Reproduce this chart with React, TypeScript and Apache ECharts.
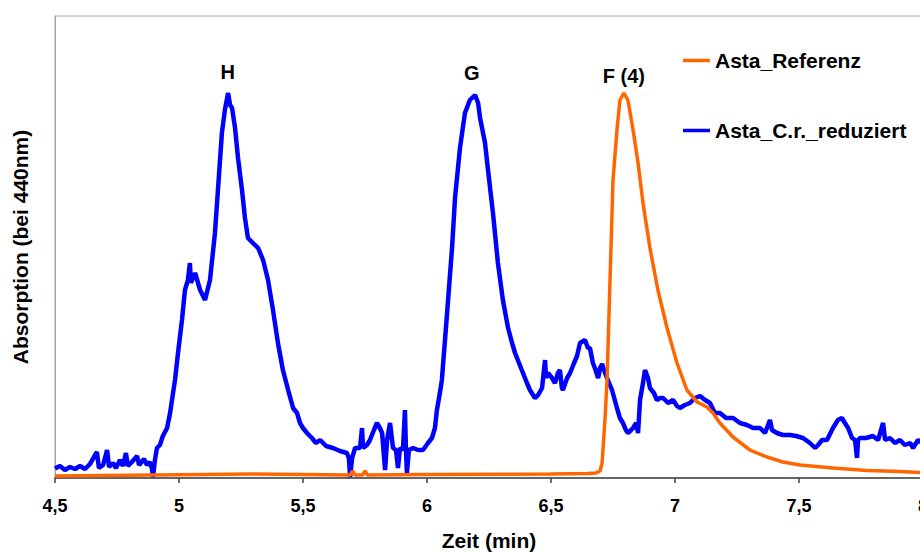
import React, { useEffect, useRef } from "react";
import * as echarts from "echarts";

// Zeit (min), Absorption (arb. units, 0 = baseline)
const blueSeries: [number, number][] = [
  [4.5, 0.95], [4.52, 1.2], [4.54, 0.8], [4.56, 1.1], [4.581, 0.9], [4.601, 1.2], [4.621, 0.9],
  [4.641, 1.4], [4.669, 2.6], [4.677, 1.0], [4.694, 1.3], [4.71, 2.8], [4.718, 1.1], [4.734, 1.5],
  [4.746, 1.0], [4.762, 1.8], [4.774, 1.2], [4.786, 2.5], [4.794, 1.2], [4.81, 1.6], [4.831, 2.2],
  [4.839, 1.3], [4.859, 1.9], [4.871, 1.3], [4.883, 1.6], [4.891, 0.9], [4.895, 0.1], [4.903, 1.8],
  [4.911, 3.0], [4.923, 3.3], [4.935, 4.2], [4.952, 5.0], [4.964, 6.5], [4.976, 8.5], [4.984, 9.8],
  [4.996, 12.5], [5.012, 15.8], [5.024, 18.8], [5.036, 19.8], [5.044, 21.5], [5.048, 19.5],
  [5.065, 20.5], [5.085, 18.8], [5.105, 17.8], [5.125, 19.8], [5.145, 24.5], [5.157, 28.8],
  [5.173, 34.5], [5.185, 36.8], [5.198, 38.5], [5.206, 37.3], [5.214, 37.0], [5.226, 35.0],
  [5.238, 32.0], [5.254, 28.8], [5.266, 26.0], [5.278, 24.0], [5.298, 23.5], [5.319, 23.0],
  [5.339, 21.8], [5.359, 19.8], [5.379, 16.8], [5.399, 13.5], [5.419, 10.8], [5.44, 8.8],
  [5.46, 7.0], [5.476, 6.5], [5.488, 5.5], [5.5, 5.0], [5.516, 4.5], [5.536, 4.0], [5.552, 3.5],
  [5.569, 3.8], [5.593, 3.2], [5.621, 3.0], [5.649, 2.7], [5.677, 2.5], [5.685, 2.0], [5.69, 0.1],
  [5.698, 2.0], [5.71, 3.0], [5.73, 3.0], [5.738, 5.0], [5.742, 3.0], [5.758, 3.3], [5.77, 3.8],
  [5.786, 4.8], [5.798, 5.5], [5.81, 5.0], [5.819, 4.5], [5.831, 0.8], [5.839, 3.8], [5.851, 5.5],
  [5.863, 3.0], [5.875, 2.8], [5.883, 1.0], [5.891, 3.0], [5.903, 2.8], [5.911, 6.8], [5.915, 3.0],
  [5.919, 0.5], [5.927, 2.8], [5.944, 3.0], [5.964, 2.8], [5.984, 2.8], [6.004, 3.5], [6.02, 4.0],
  [6.032, 5.0], [6.04, 6.8], [6.052, 8.5], [6.06, 9.8], [6.081, 16.5], [6.101, 23.0], [6.113, 28.0],
  [6.133, 33.0], [6.153, 36.5], [6.173, 37.8], [6.194, 38.3], [6.206, 37.5], [6.214, 36.0],
  [6.234, 33.5], [6.246, 30.8], [6.266, 26.5], [6.286, 21.5], [6.306, 17.8], [6.327, 15.0],
  [6.343, 13.5], [6.355, 12.5], [6.371, 11.5], [6.387, 10.5], [6.403, 9.5], [6.415, 8.8],
  [6.435, 8.0], [6.448, 8.3], [6.464, 9.0], [6.476, 11.8], [6.48, 10.0], [6.488, 10.5],
  [6.504, 10.0], [6.516, 9.5], [6.528, 10.5], [6.536, 10.8], [6.544, 9.0], [6.548, 8.8],
  [6.565, 10.0], [6.577, 10.5], [6.593, 11.5], [6.605, 12.2], [6.617, 13.5], [6.637, 13.8],
  [6.649, 13.0], [6.657, 13.0], [6.669, 11.5], [6.677, 11.0], [6.69, 10.0], [6.698, 11.0],
  [6.706, 11.4], [6.718, 10.5], [6.726, 10.0], [6.746, 8.8], [6.766, 7.0], [6.778, 6.0],
  [6.79, 5.5], [6.802, 4.8], [6.81, 4.5], [6.823, 4.8], [6.831, 5.0], [6.843, 5.5], [6.851, 4.5],
  [6.859, 7.8], [6.871, 9.5], [6.879, 10.8], [6.891, 10.0], [6.899, 9.0], [6.915, 8.5],
  [6.927, 7.8], [6.94, 8.0], [6.952, 8.0], [6.972, 7.5], [6.992, 7.8], [7.008, 7.2], [7.02, 7.0],
  [7.04, 7.3], [7.06, 7.5], [7.081, 8.0], [7.101, 8.2], [7.121, 7.8], [7.141, 7.5], [7.161, 6.5],
  [7.181, 6.5], [7.206, 6.0], [7.234, 6.0], [7.262, 5.5], [7.29, 5.3], [7.315, 5.0], [7.343, 5.0],
  [7.363, 4.5], [7.383, 5.8], [7.391, 4.8], [7.411, 4.5], [7.435, 4.3], [7.464, 4.3], [7.488, 4.2],
  [7.516, 4.0], [7.544, 3.5], [7.565, 3.0], [7.577, 3.3], [7.593, 3.8], [7.613, 3.8], [7.637, 5.0],
  [7.657, 5.8], [7.673, 6.0], [7.685, 5.5], [7.698, 5.0], [7.714, 4.0], [7.726, 3.8], [7.734, 2.0],
  [7.738, 3.8], [7.746, 4.0], [7.77, 4.0], [7.798, 4.2], [7.819, 3.8], [7.839, 5.5], [7.847, 3.8],
  [7.867, 4.0], [7.887, 3.5], [7.907, 3.8], [7.927, 3.3], [7.948, 3.5], [7.96, 3.0], [7.98, 3.8],
  [7.996, 3.5],
];

const orangeSeries: [number, number][] = [
  [4.5, 0.2], [4.9, 0.3], [5.3, 0.4], [5.69, 0.3], [5.7, 0.7], [5.71, 0.3], [5.74, 0.3],
  [5.75, 0.7], [5.76, 0.3], [6.0, 0.35], [6.5, 0.4], [6.65, 0.45], [6.681, 0.5], [6.698, 0.7],
  [6.706, 1.5], [6.71, 3.0], [6.718, 6.0], [6.726, 9.8], [6.738, 19.8], [6.75, 29.8],
  [6.766, 34.8], [6.778, 37.8], [6.794, 38.5], [6.81, 37.8], [6.831, 34.8], [6.851, 31.5],
  [6.871, 27.5], [6.899, 23.0], [6.931, 18.8], [6.968, 15.0], [7.008, 11.5], [7.048, 8.8],
  [7.089, 7.6], [7.129, 7.1], [7.153, 6.5], [7.181, 5.5], [7.234, 4.1], [7.302, 2.8],
  [7.371, 2.1], [7.435, 1.6], [7.504, 1.3], [7.637, 1.0], [7.774, 0.75], [7.907, 0.65],
  [7.996, 0.55],
];

const seriesNames = ["Asta_Referenz", "Asta_C.r._reduziert"];
const peakLabels: { name: string; coord: [number, number] }[] = [
  { name: "H", coord: [5.196, 40.6] },
  { name: "G", coord: [6.181, 40.5] },
  { name: "F (4)", coord: [6.794, 40.2] },
];
const xMin = 4.5;
const xMax = 8;
const xStep = 0.5;
const yMax = 46.2;

const FONT = "'Liberation Sans', Arial, sans-serif";

export default function App() {
  const ref = useRef<HTMLDivElement>(null);
  useEffect(() => {
    if (!ref.current) return;
    const chart = echarts.init(ref.current, undefined, { renderer: "svg" });
    chart.setOption({
      animation: false,
      backgroundColor: "#ffffff",
      textStyle: { fontFamily: FONT },
      grid: {
        left: 55,
        top: 16,
        right: 7,
        bottom: 74,
        show: true,
        borderColor: "#a6a6a6",
        borderWidth: 1,
        outerBoundsMode: "none",
        containLabel: false,
      },
      legend: {
        orient: "vertical",
        left: 678,
        top: 45,
        icon: "rect",
        itemWidth: 27,
        itemHeight: 3.5,
        itemGap: 49,
        data: seriesNames,
        textStyle: { fontFamily: FONT, fontSize: 21, fontWeight: "bold", color: "#000", padding: [0, 0, 0, 0] },
      },
      xAxis: {
        type: "value",
        min: xMin,
        max: xMax,
        interval: xStep,
        name: "Zeit (min)",
        nameLocation: "middle",
        nameGap: 52,
        nameTextStyle: { fontFamily: FONT, fontSize: 21, fontWeight: "bold", color: "#000" },
        axisLine: { show: true, onZero: false, lineStyle: { color: "#404040", width: 1.5 } },
        axisTick: { show: true, inside: false, length: 5, lineStyle: { color: "#404040", width: 1.5 } },
        splitLine: { show: false },
        axisLabel: {
          margin: 19,
          fontFamily: FONT,
          fontSize: 18,
          fontWeight: "bold",
          color: "#000",
          formatter: (v: number) => String(v).replace(".", ","),
        },
      },
      yAxis: {
        type: "value",
        min: 0,
        max: yMax,
        name: "Absorption (bei 440nm)",
        nameLocation: "middle",
        nameGap: 24,
        nameTextStyle: { fontFamily: FONT, fontSize: 21, fontWeight: "bold", color: "#000" },
        axisLine: { show: true, lineStyle: { color: "#a6a6a6", width: 1 } },
        axisTick: { show: false },
        axisLabel: { show: false },
        splitLine: { show: false },
      },
      series: [
        {
          name: seriesNames[1],
          type: "line",
          data: blueSeries,
          symbol: "none",
          lineStyle: { color: "#0000ff", width: 4.5 },
          itemStyle: { color: "#0000ff" },
          z: 2,
          markPoint: {
            symbol: "circle",
            symbolSize: 0,
            label: {
              show: true,
              position: "inside",
              fontFamily: FONT,
              fontSize: 20,
              fontWeight: "bold",
              color: "#000",
              formatter: (p: any) => p.name,
            },
            data: peakLabels.map((p) => ({ name: p.name, coord: p.coord })),
          },
        },
        {
          name: seriesNames[0],
          type: "line",
          data: orangeSeries,
          symbol: "none",
          lineStyle: { color: "#ff6600", width: 3.5 },
          itemStyle: { color: "#ff6600" },
          z: 3,
        },
      ],
    });
    return () => chart.dispose();
  }, []);
  return (
    <div style={{ position: "fixed", left: 0, top: 0, width: 920, height: 552, overflow: "hidden", background: "#fff" }}>
      <div ref={ref} style={{ width: 930, height: 552 }} />
    </div>
  );
}
